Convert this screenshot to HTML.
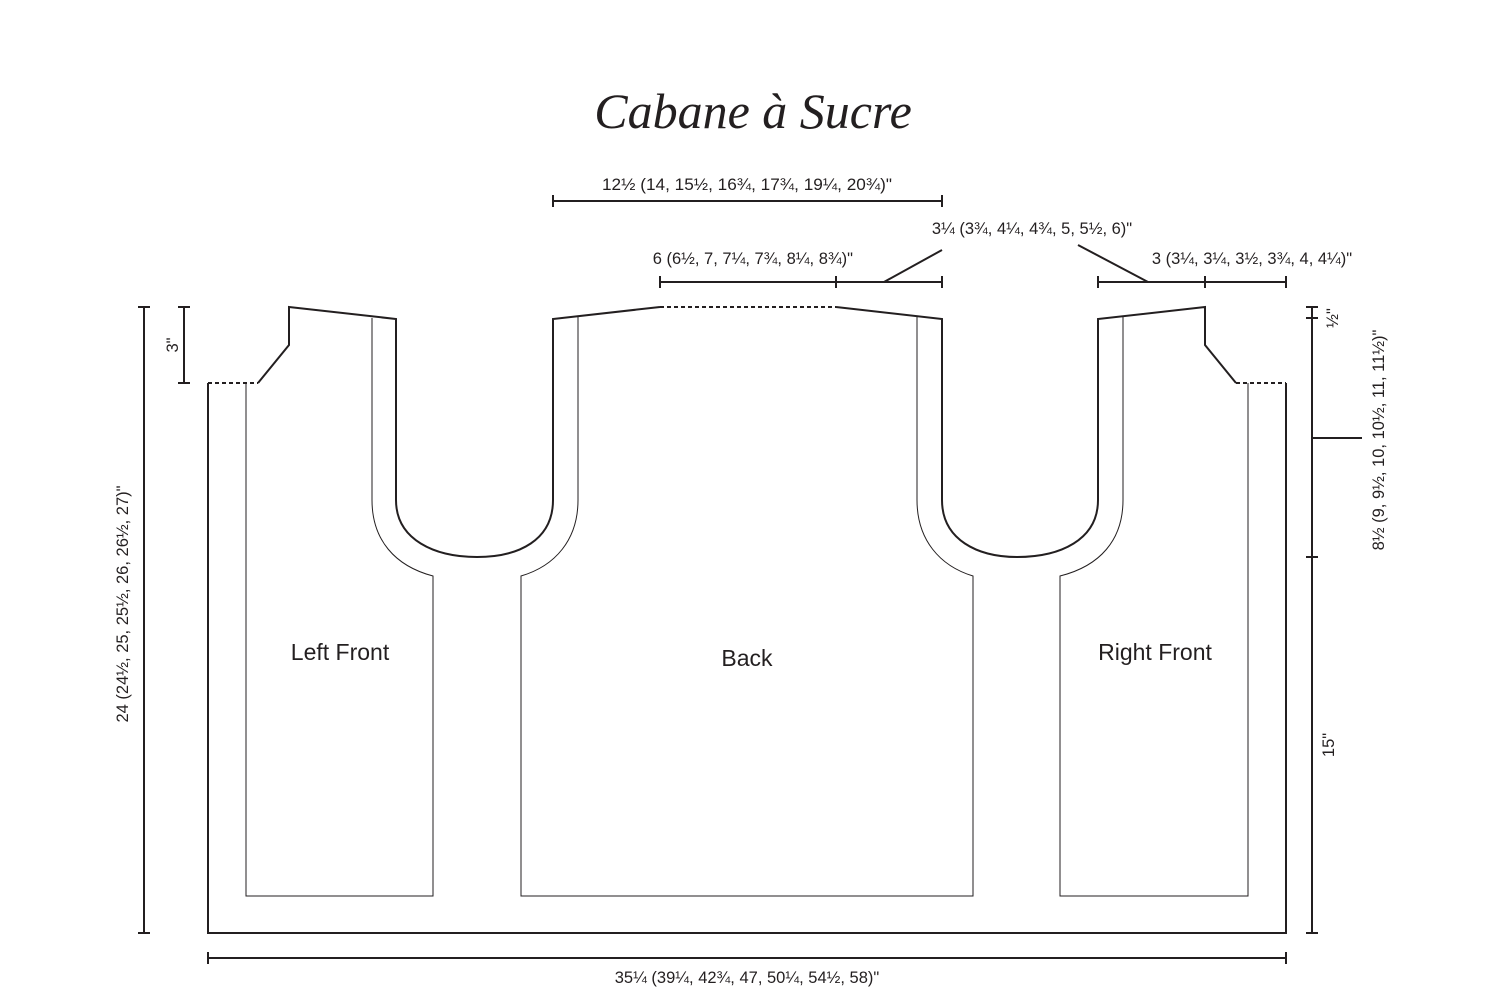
<!DOCTYPE html>
<html><head><meta charset="utf-8"><style>
html,body{margin:0;padding:0;background:#fff;}
svg{display:block;}
text{font-family:"Liberation Sans",sans-serif;fill:#231f20;}
</style></head><body>
<svg width="1500" height="1000" viewBox="0 0 1500 1000" xmlns="http://www.w3.org/2000/svg">
<text x="753" y="128" text-anchor="middle" style="font-family:'Liberation Serif',serif;font-style:italic;font-size:50px">Cabane à Sucre</text>

<g fill="none" stroke="#231f20" stroke-width="2">
<path d="M208,383 L208,933 L1286,933 L1286,383"/>
<path d="M258,383 L289,345 L289,307 L396,319 L396,500 C396,540 435,557 477,557 C519,557 553,540 553,500 L553,319 L660,307"/>
<path d="M836,307 L942,319 L942,500 C942,540 978,557 1017,557 C1060,557 1098,540 1098,500 L1098,319 L1205,307 L1205,345 L1236,383"/>
<path d="M208,383 L258,383 M660,307 L836,307 M1236,383 L1286,383" stroke-dasharray="4,3"/>
</g>
<g fill="none" stroke="#231f20" stroke-width="1">
<path d="M246,383 L246,896 L433,896 L433,576 C395,566 372,540 372,500 L372,318"/>
<path d="M578,316 L578,500 C578,540 555,566 521,576 L521,896 L973,896 L973,576 C940,566 917,540 917,500 L917,316"/>
<path d="M1123,316 L1123,500 C1123,540 1100,566 1060,576 L1060,896 L1248,896 L1248,383"/>
</g>

<g fill="none" stroke="#231f20" stroke-width="2">
<path d="M553,201 L942,201 M553,195 L553,207 M942,195 L942,207"/>
<path d="M660,282 L942,282 M660,276 L660,288 M836,276 L836,288 M942,276 L942,288"/>
<path d="M884,282 L942,250"/>
<path d="M1078,245 L1148,282"/>
<path d="M1098,282 L1286,282 M1098,276 L1098,288 M1205,276 L1205,288 M1286,276 L1286,288"/>
<path d="M144,307 L144,933 M138,307 L150,307 M138,933 L150,933"/>
<path d="M184,307 L184,383 M178,307 L190,307 M178,383 L190,383"/>
<path d="M1312,307 L1312,933 M1306,307 L1318,307 M1306,318 L1318,318 M1306,557 L1318,557 M1306,933 L1318,933"/>
<path d="M1312,438 L1362,438"/>
<path d="M208,958 L1286,958 M208,952 L208,964 M1286,952 L1286,964"/>
</g>

<g font-size="16.5">
<text x="747" y="190" text-anchor="middle" textLength="290" lengthAdjust="spacingAndGlyphs">12½ (14, 15½, 16¾, 17¾, 19¼, 20¾)"</text>
<text x="853" y="264" text-anchor="end">6 (6½, 7, 7¼, 7¾, 8¼, 8¾)"</text>
<text x="1032" y="234" text-anchor="middle">3¼ (3¾, 4¼, 4¾, 5, 5½, 6)"</text>
<text x="1252" y="264" text-anchor="middle">3 (3¼, 3¼, 3½, 3¾, 4, 4¼)"</text>
<text x="747" y="983" text-anchor="middle">35¼ (39¼, 42¾, 47, 50¼, 54½, 58)"</text>
<text transform="translate(128,604) rotate(-90)" text-anchor="middle">24 (24½, 25, 25½, 26, 26½, 27)"</text>
<text transform="translate(178,345) rotate(-90)" text-anchor="middle">3"</text>
<text transform="translate(1384,440) rotate(-90)" text-anchor="middle">8½ (9, 9½, 10, 10½, 11, 11½)"</text>
<text transform="translate(1338,318) rotate(-90)" text-anchor="middle">½"</text>
<text transform="translate(1334,745) rotate(-90)" text-anchor="middle">15"</text>
</g>
<g font-size="23">
<text x="340" y="660" text-anchor="middle">Left Front</text>
<text x="747" y="666" text-anchor="middle">Back</text>
<text x="1155" y="660" text-anchor="middle">Right Front</text>
</g>
</svg>
</body></html>
